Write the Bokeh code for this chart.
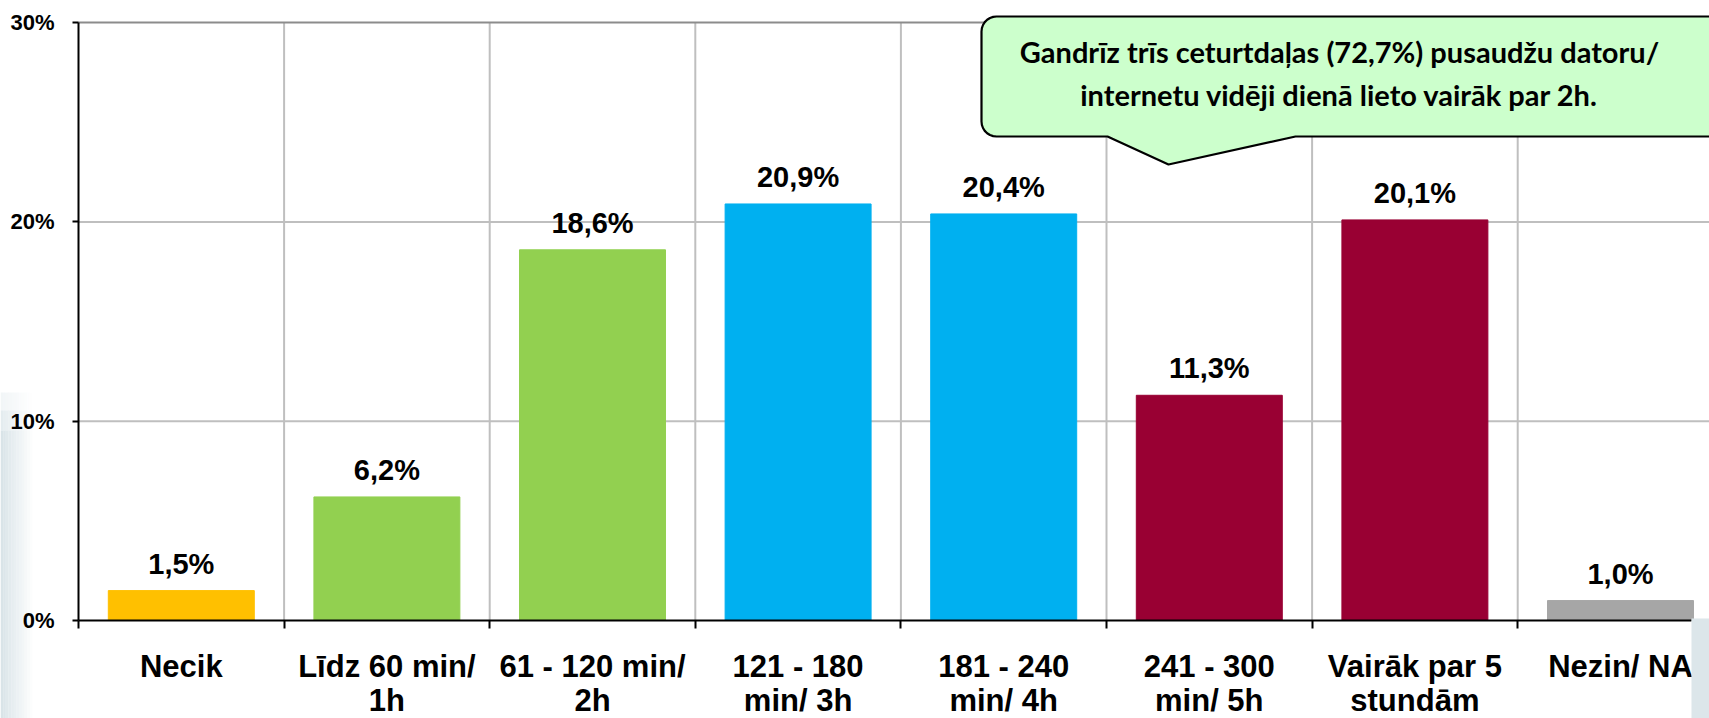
import numpy as np
from bokeh.plotting import figure
from bokeh.models import Range1d, FixedTicker, ColumnDataSource
from bokeh.core.properties import value
from bokeh.embed import file_html
from bokeh.resources import INLINE

# ---------------- data ----------------
categories = ["Necik", "Līdz 60 min/\n1h", "61 - 120 min/\n2h", "121 - 180\nmin/ 3h",
              "181 - 240\nmin/ 4h", "241 - 300\nmin/ 5h", "Vairāk par 5\nstundām", "Nezin/ NA"]
values = [1.5, 6.2, 18.6, 20.9, 20.4, 11.3, 20.1, 1.0]
value_labels = ["1,5%", "6,2%", "18,6%", "20,9%", "20,4%", "11,3%", "20,1%", "1,0%"]
colors = ["#FFC000", "#92D050", "#92D050", "#00B0F0", "#00B0F0", "#990033", "#990033", "#A6A6A6"]
y_ticks = [0, 10, 20, 30]
y_tick_labels = ["0%", "10%", "20%", "30%"]
y_grid = [10, 20]
callout_lines = ["Gandrīz trīs ceturtdaļas (72,7%) pusaudžu datoru/",
                 "internetu vidēji dienā lieto vairāk par 2h."]

# ---------------- layout ----------------
W, H = 1709, 718
X0_PX, Y0_PX = 78, 620      # canvas position of the data origin
CAT_PX = 205.6              # pixels per category
Y_PX = 19.93                # pixels per percent

def px2x(px):
    return (px - X0_PX) / CAT_PX

def py2y(py):
    return (Y0_PX - py) / Y_PX

n = len(values)
FONT = value("Liberation Sans")

p = figure(width=W, height=H, x_range=Range1d(px2x(0), px2x(W)),
           y_range=Range1d(py2y(H), py2y(0)), min_border=0,
           min_border_left=0, min_border_right=0, min_border_top=0, min_border_bottom=0,
           output_backend="svg", toolbar_location=None)
p.outline_line_color = None
p.background_fill_color = "white"
p.border_fill_color = "white"
p.xgrid.visible = False
p.ygrid.visible = False

# decorative left panel: soft gradient (behind everything)
ns = 12
sw = 32 / ns
gl, gr, gt, gb, ga = [], [], [], [], []
for i in range(ns):
    a_x = 1.0 - i / ns
    for j, (y_top, y_bot, a_y) in enumerate([(392, 410, 0.35), (410, 430, 0.7), (430, H, 1.0)]):
        gl.append(px2x(i * sw)); gr.append(px2x((i + 1) * sw))
        gt.append(py2y(y_top)); gb.append(py2y(y_bot)); ga.append(0.9 * a_x * a_y)
p.quad(left=gl, right=gr, top=gt, bottom=gb, fill_color="#D5E1E6", fill_alpha=ga,
       line_color=None, level="underlay")

# grid lines (limited to the plot area)
x_end = px2x(1709)
p.segment(x0=list(range(1, n + 1)), x1=list(range(1, n + 1)), y0=[0] * n,
          y1=[y_ticks[-1]] * n, line_color="#BFBFBF", line_width=2, level="underlay")
p.segment(x0=[0] * len(y_grid), x1=[x_end] * len(y_grid), y0=y_grid, y1=y_grid,
          line_color="#BFBFBF", line_width=2, level="underlay")
p.segment(x0=[0], x1=[x_end], y0=[y_ticks[-1]], y1=[y_ticks[-1]],
          line_color="#8C8C8C", line_width=2, level="underlay")

# bars
centers = [i + 0.5 for i in range(n)]
src = ColumnDataSource(dict(x=centers, top=values, color=colors, lab=value_labels))
p.vbar(x="x", top="top", width=0.71, color="color", source=src)
p.text(x="x", y="top", text="lab", source=src, text_align="center",
       text_baseline="middle", y_offset=-27, text_font=FONT,
       text_font_style="bold", text_font_size="29px", text_color="black")

# x axis: labels at centres, boundary ticks as minor ticks
xa = p.xaxis[0]
xa.fixed_location = 0
xa.bounds = (0, px2x(1691))
xa.ticker = FixedTicker(ticks=centers, minor_ticks=list(range(0, n + 1)))
xa.major_label_overrides = {c: lab for c, lab in zip(centers, categories)}
xa.major_label_text_font = "Liberation Sans"
xa.major_label_text_font_style = "bold"
xa.major_label_text_font_size = "31px"
xa.major_label_text_color = "black"
xa.major_label_text_line_height = 0.98
xa.major_label_standoff = 20
xa.major_tick_line_color = None
xa.major_tick_out = 0
xa.major_tick_in = 0
xa.minor_tick_out = 8
xa.minor_tick_in = 0
xa.minor_tick_line_width = 2
xa.minor_tick_line_color = "black"
xa.axis_line_width = 2
xa.axis_line_color = "black"

ya = p.yaxis[0]
ya.fixed_location = 0
ya.bounds = (0, y_ticks[-1])
ya.ticker = FixedTicker(ticks=y_ticks, minor_ticks=[])
ya.major_label_overrides = {t: l for t, l in zip(y_ticks, y_tick_labels)}
ya.major_label_text_font = "Liberation Sans"
ya.major_label_text_font_style = "bold"
ya.major_label_text_font_size = "22px"
ya.major_label_text_color = "black"
ya.major_label_standoff = 18
ya.major_tick_out = 6
ya.major_tick_in = 0
ya.major_tick_line_width = 2
ya.major_tick_line_color = "black"
ya.minor_tick_line_color = None
ya.axis_line_width = 2
ya.axis_line_color = "black"

# callout bubble
L, T, B, R, r = 981, 16, 136, 1780, 15
pts = [(L + r, T), (R, T), (R, B), (1295, B), (1168, 164), (1107, B), (L + r, B)]
for a in np.linspace(np.pi / 2, np.pi, 8):
    pts.append((L + r + r * np.cos(a), B - r + r * np.sin(a)))
pts.append((L, T + r))
for a in np.linspace(np.pi, 1.5 * np.pi, 8):
    pts.append((L + r + r * np.cos(a), T + r + r * np.sin(a)))
p.patch([px2x(a) for a, b in pts], [py2y(b) for a, b in pts], fill_color="#CCFFCC",
        line_color="black", line_width=2.2, line_join="round", level="overlay")
for txt, py in zip(callout_lines, (51, 94)):
    p.text(x=[px2x(1339)], y=[py2y(py)], text=[txt], text_align="center",
           text_baseline="middle", text_font=value("Lato"), text_font_style="bold",
           text_font_size="29px", text_color="black", level="overlay")

# right-hand panel
p.quad(left=[px2x(1691)], right=[px2x(W)], top=[py2y(618)], bottom=[py2y(H)],
       fill_color="#DCE6EA", line_color=None, level="overlay")

open("out.html", "w").write(file_html(p, INLINE))
